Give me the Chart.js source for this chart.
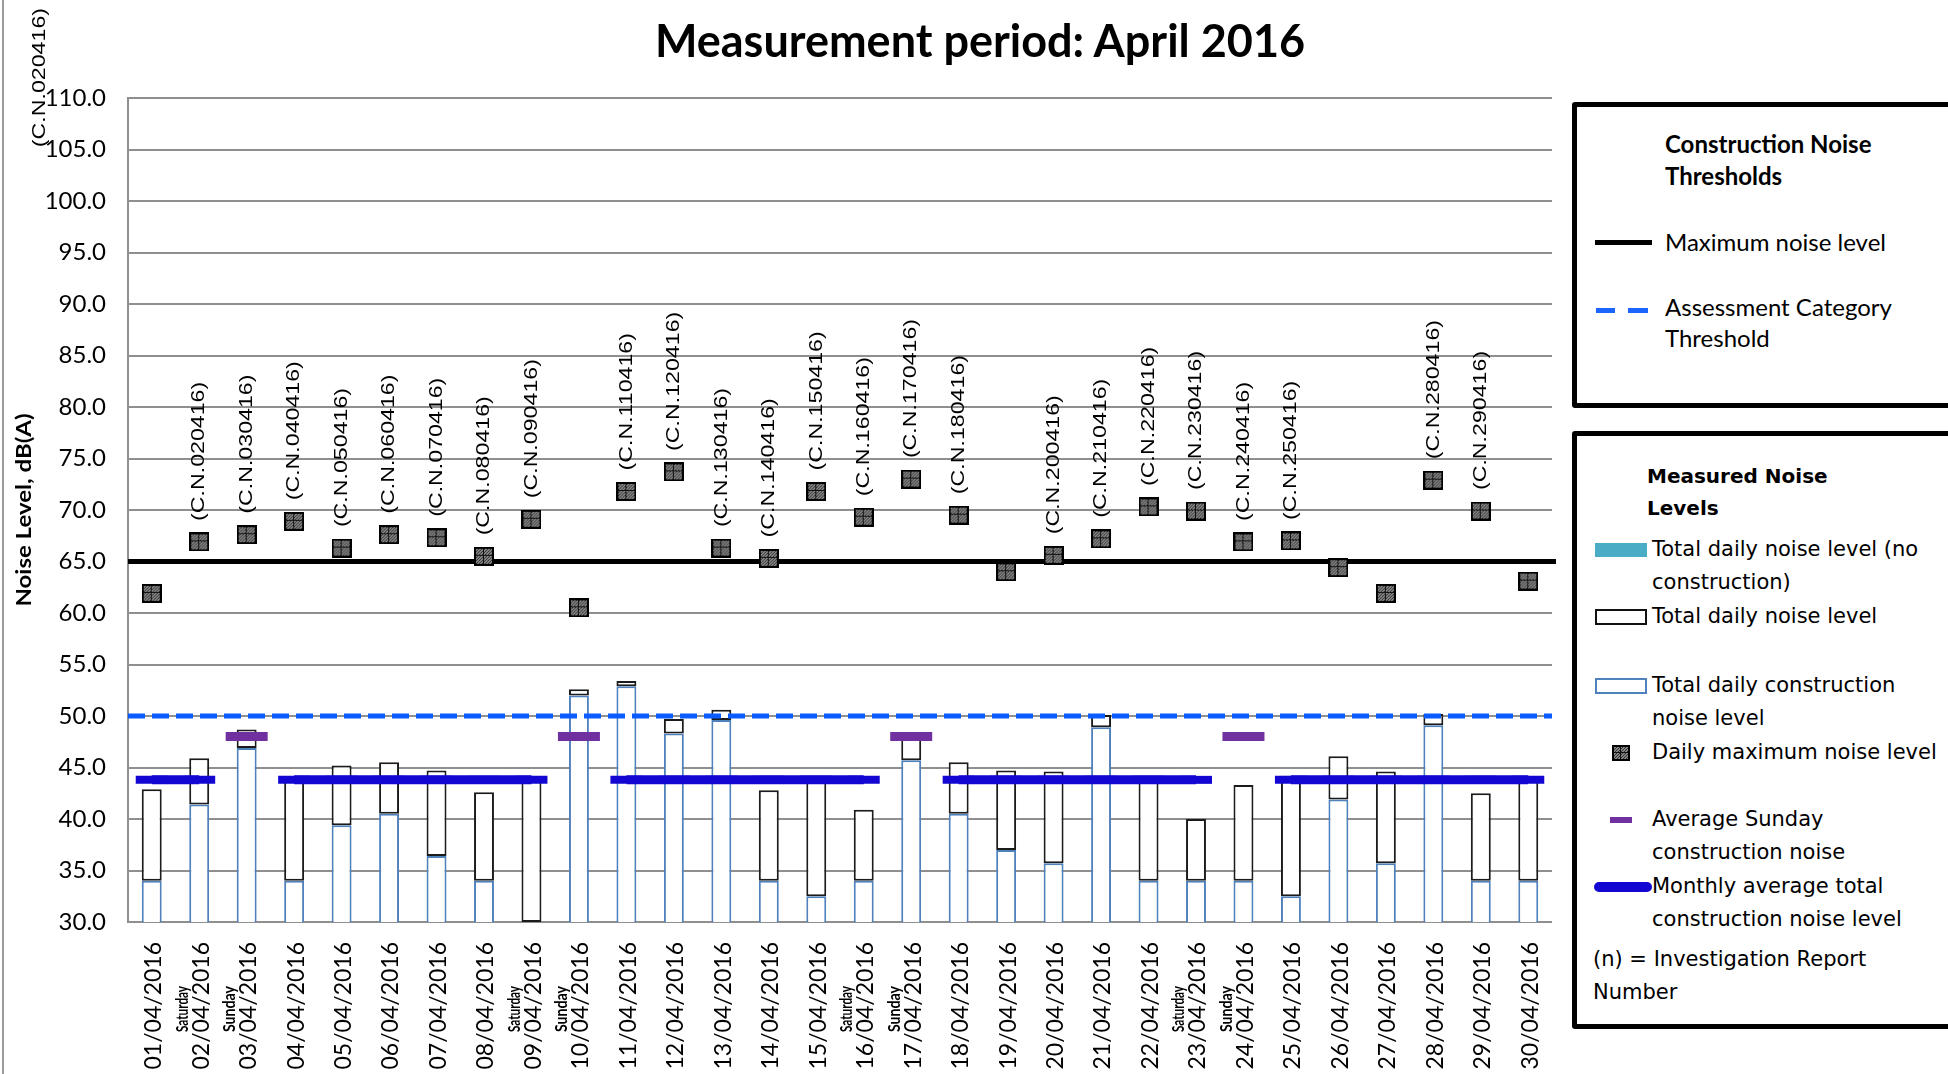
<!DOCTYPE html>
<html>
<head>
<meta charset="utf-8">
<title>Construction noise - April 2016</title>
<script src="https://cdn.jsdelivr.net/npm/chart.js@4.4.1/dist/chart.umd.min.js"></script>
<style>
  html, body { margin: 0; padding: 0; background: #fff; overflow: hidden; }
  #wrap { position: relative; width: 1948px; height: 1074px; overflow: hidden; }
  #chart-box { position: absolute; left: 0; top: 0; width: 1948px; height: 1074px; }
  .frame { position: absolute; left: 2px; top: 0; width: 2px; height: 1074px; background: #9a9a9a; }
  .title { position: absolute; left: 0; width: 1960px; top: 13px; text-align: center;
           font: bold 45px Lato, sans-serif; line-height: 1.2; color: #000; }
  .box { position: absolute; left: 1572px; width: 420px; border: 5px solid #000;
         border-radius: 3px; box-sizing: border-box; background: #fff; }
  .box div, .box img { position: absolute; }
  .t1 { font: 24px Lato, sans-serif; line-height: 31px; white-space: nowrap; }
  .h1 { font: bold 24px Lato, sans-serif; line-height: 32px; white-space: nowrap; }
  .t2 { font: 21px "DejaVu Sans", sans-serif; line-height: 33px; white-space: nowrap; }
  .h2 { font: bold 20px "DejaVu Sans", sans-serif; line-height: 32px; white-space: nowrap; }
</style>
</head>
<body>
<div id="wrap">
  <div id="chart-box"><canvas id="noise-chart"></canvas></div>
  <div class="frame"></div>
  <div class="title">Measurement period: April 2016</div>

  <!-- Thresholds legend -->
  <div class="box" style="top:102px;height:306px;">
    <div class="h1" style="left:88px;top:21px;">Construction Noise<br>Thresholds</div>
    <div style="left:18px;top:133px;width:57px;height:5px;background:#000;"></div>
    <div class="t1" style="left:88px;top:119px;">Maximum noise level</div>
    <div style="left:19px;top:201px;width:19px;height:5px;background:#1a66ff;"></div>
    <div style="left:51px;top:201px;width:20px;height:5px;background:#1a66ff;"></div>
    <div class="t1" style="left:88px;top:184px;">Assessment Category<br>Threshold</div>
  </div>

  <!-- Measured levels legend -->
  <div class="box" style="top:431px;height:598px;">
    <div class="h2" style="left:70px;top:24px;">Measured Noise<br>Levels</div>
    <div style="left:18px;top:107px;width:52px;height:14px;background:#4bacc6;"></div>
    <div class="t2" style="left:75px;top:97px;">Total daily noise level (no<br>construction)</div>
    <div style="left:18px;top:173px;width:48px;height:12px;border:2px solid #111;"></div>
    <div class="t2" style="left:75px;top:164px;">Total daily noise level</div>
    <div style="left:18px;top:242px;width:48px;height:12px;border:2px solid #4f81bd;"></div>
    <div class="t2" style="left:75px;top:233px;">Total daily construction<br>noise level</div>
    <img id="legend-marker" style="left:35px;top:309px;width:18px;height:16px;" alt="">
    <div class="t2" style="left:75px;top:300px;">Daily maximum noise level</div>
    <div style="left:33px;top:381px;width:22px;height:6px;background:#7030a0;"></div>
    <div class="t2" style="left:75px;top:367px;">Average Sunday<br>construction noise</div>
    <div style="left:17px;top:446px;width:58px;height:10px;border-radius:5px;background:#1406d2;"></div>
    <div class="t2" style="left:75px;top:434px;">Monthly average total<br>construction noise level</div>
    <div class="t2" style="left:16px;top:507px;">(n) = Investigation Report<br>Number</div>
  </div>
</div>

<script>
// Construction noise chart, April 2016
// Bars = daily total / construction noise, squares = daily maximum,
// horizontal lines = thresholds and averages.

// Data

const DATES = [
  '01/04/2016', '02/04/2016', '03/04/2016', '04/04/2016', '05/04/2016',
  '06/04/2016', '07/04/2016', '08/04/2016', '09/04/2016', '10/04/2016',
  '11/04/2016', '12/04/2016', '13/04/2016', '14/04/2016', '15/04/2016',
  '16/04/2016', '17/04/2016', '18/04/2016', '19/04/2016', '20/04/2016',
  '21/04/2016', '22/04/2016', '23/04/2016', '24/04/2016', '25/04/2016',
  '26/04/2016', '27/04/2016', '28/04/2016', '29/04/2016', '30/04/2016',
];

const WEEKDAYS = [
  '', 'Saturday', 'Sunday', '', '', '', '', '', 'Saturday', 'Sunday',
  '', '', '', '', '', 'Saturday', 'Sunday', '', '', '',
  '', '', 'Saturday', 'Sunday', '', '', '', '', '', '',
];

// Total daily noise level, dB(A)
const TOTAL_NOISE = [
  42.9, 45.9, 48.7, 43.9, 45.2, 45.5, 44.7, 42.6, 43.9, 52.6,
  53.4, 49.7, 50.6, 42.8, 44.2, 40.9, 48.2, 45.5, 44.7, 44.6,
  50.1, 43.7, 40.0, 43.3, 44.2, 46.1, 44.6, 50.2, 42.5, 43.8,
];

// Total daily construction noise level, dB(A)
const CONSTRUCTION_NOISE = [
  34.0, 41.4, 46.9, 34.0, 39.4, 40.5, 36.4, 34.0, null, 52.0,
  52.9, 48.3, 49.6, 34.0, 32.5, 34.0, 45.7, 40.5, 37.0, 35.7,
  48.9, 34.0, 34.0, 34.0, 32.5, 41.9, 35.7, 49.1, 34.0, 34.0,
];

// Daily maximum noise level, dB(A)
const DAILY_MAX = [
  61.9, 66.9, 67.6, 68.9, 66.3, 67.6, 67.3, 65.5, 69.1, 60.5,
  71.8, 73.7, 66.3, 65.3, 71.8, 69.3, 73.0, 69.5, 64.0, 65.6,
  67.2, 70.3, 69.9, 66.9, 67.0, 64.4, 61.9, 72.9, 69.9, 63.1,
];

// Investigation report numbers shown above the maximum markers
const REPORT_NO = [
  '', '(C.N.020416)', '(C.N.030416)', '(C.N.040416)', '(C.N.050416)',
  '(C.N.060416)', '(C.N.070416)', '(C.N.080416)', '(C.N.090416)', '',
  '(C.N.110416)', '(C.N.120416)', '(C.N.130416)', '(C.N.140416)', '(C.N.150416)',
  '(C.N.160416)', '(C.N.170416)', '(C.N.180416)', '', '(C.N.200416)',
  '(C.N.210416)', '(C.N.220416)', '(C.N.230416)', '(C.N.240416)', '(C.N.250416)',
  '', '', '(C.N.280416)', '(C.N.290416)', '',
];

// Average Sunday construction noise (Sundays only)
const SUNDAY_AVG = [
  null, null, 48.0, null, null, null, null, null, null, 48.0,
  null, null, null, null, null, null, 48.0, null, null, null,
  null, null, null, 48.0, null, null, null, null, null, null,
];

// Monthly average total construction noise (broken on Sundays)
const MONTHLY_AVG = [
  43.8, 43.8, null, 43.8, 43.8, 43.8, 43.8, 43.8, 43.8, null,
  43.8, 43.8, 43.8, 43.8, 43.8, 43.8, null, 43.8, 43.8, 43.8,
  43.8, 43.8, 43.8, null, 43.8, 43.8, 43.8, 43.8, 43.8, 43.8,
];

const MAX_LEVEL = 65.0;      // maximum noise level
const ASSESS_LEVEL = 50.0;   // assessment category threshold
const Y_MIN = 30, Y_MAX = 110, Y_STEP = 5;
const Y_TITLE = 'Noise Level, dB(A)';
const STRAY_LABEL = '(C.N.020416)';

// Helpers

// Square marker with a hatched grey fill, like the Excel picture marker
function makeMarker(w, h) {
  const c = document.createElement('canvas');
  c.width = w;
  c.height = h;
  const g = c.getContext('2d');
  g.fillStyle = '#000';
  g.fillRect(0, 0, w, h);
  g.fillStyle = '#858585';
  g.fillRect(2, 2, w - 4, h - 4);
  g.fillStyle = '#333';
  for (let y = 2; y < h - 2; y++) {
    for (let x = 2; x < w - 2; x++) {
      if ((x + y) % 3 === 0) g.fillRect(x, y, 1, 1);
    }
  }
  g.fillStyle = '#111';
  g.fillRect(Math.floor(w / 2) - 1, 2, 1, h - 4);
  g.fillRect(2, Math.floor(h / 2) - 1, w - 4, 1);
  return c;
}

// Text rotated to read bottom-to-top; stretch scales along the text
function vText(ctx, text, x, y, font, align, stretch) {
  ctx.save();
  ctx.translate(x, y);
  ctx.rotate(-Math.PI / 2);
  ctx.scale(stretch, 1);
  ctx.font = font;
  ctx.fillStyle = '#000';
  ctx.textAlign = align;
  ctx.textBaseline = 'middle';
  ctx.fillText(text, 0, 0);
  ctx.restore();
}

function hLine(chart, value, color, width, dash, extra) {
  const { ctx, chartArea: a, scales: { y } } = chart;
  const py = y.getPixelForValue(value);
  ctx.save();
  ctx.strokeStyle = color;
  ctx.lineWidth = width;
  ctx.setLineDash(dash);
  ctx.beginPath();
  ctx.moveTo(a.left, py);
  ctx.lineTo(a.right + extra, py);
  ctx.stroke();
  ctx.restore();
}

const overlayPlugin = {
  id: 'overlay',
  beforeDatasetsDraw(chart) {
    hLine(chart, MAX_LEVEL, '#000', 5, [], 4);
  },
  afterDatasetDraw(chart, args) {
    // dashed threshold sits on top of the bars
    if (args.index === 1) hLine(chart, ASSESS_LEVEL, '#0a5cff', 5, [17, 7], 0);
  },
  afterDatasetsDraw(chart) {
    const { ctx, scales: { x, y } } = chart;
    REPORT_NO.forEach((label, i) => {
      if (!label) return;
      const px = x.getPixelForValue(i);
      const py = y.getPixelForValue(DAILY_MAX[i]) - 21;
      vText(ctx, label, px, py, '19px "Liberation Sans"', 'left', 1.22);
    });
  },
  afterDraw(chart) {
    const { ctx, chartArea: a, scales: { x } } = chart;
    DATES.forEach((d, i) => {
      const px = x.getPixelForValue(i);
      vText(ctx, d, px + 2, a.bottom + 20, '23px Lato', 'right', 1.0);
      if (WEEKDAYS[i]) {
        ctx.save();
        ctx.translate(px - 17, a.bottom + 87);
        ctx.rotate(-Math.PI / 2);
        ctx.font = 'bold 17px Lato';
        ctx.fillStyle = '#000';
        ctx.textAlign = 'center';
        ctx.textBaseline = 'middle';
        ctx.fillText(WEEKDAYS[i], 0, 0, 46);
        ctx.restore();
      }
    });
    vText(ctx, Y_TITLE, 25, (a.top + a.bottom) / 2, 'bold 20px Lato', 'center', 1.2);
    vText(ctx, STRAY_LABEL, 40, 8, '19px "Liberation Sans"', 'right', 1.22);
  },
};

// Chart

document.addEventListener('DOMContentLoaded', () => {
  const marker = makeMarker(20, 19);
  document.getElementById('legend-marker').src = makeMarker(18, 16).toDataURL();

  Chart.defaults.font.family = 'Lato';
  Chart.defaults.color = '#000';

  const gridGray = '#8f8f8f';

  new Chart(document.getElementById('noise-chart'), {
    data: {
      labels: DATES,
      datasets: [
        {
          type: 'bar',
          label: 'Total daily construction noise level',
          data: CONSTRUCTION_NOISE,
          backgroundColor: '#ffffff',
          borderColor: '#4f81bd',
          borderWidth: 2,
          grouped: false,
          barPercentage: 0.42,
          categoryPercentage: 1,
          order: 6,
        },
        {
          type: 'bar',
          label: 'Total daily noise level',
          // stacked on top of the construction share
          data: TOTAL_NOISE.map((t, i) => [CONSTRUCTION_NOISE[i] ?? Y_MIN, t]),
          backgroundColor: '#ffffff',
          borderColor: '#1b1b1b',
          borderWidth: 2,
          borderSkipped: false,
          grouped: false,
          barPercentage: 0.42,
          categoryPercentage: 1,
          order: 5,
        },
        {
          type: 'line',
          label: 'Monthly average total construction noise level',
          data: MONTHLY_AVG,
          borderColor: '#1406d2',
          borderWidth: 9,
          spanGaps: false,
          pointStyle: 'line',
          pointRadius: 16,
          pointBorderWidth: 8,
          pointBorderColor: '#1406d2',
          order: 4,
        },
        {
          type: 'line',
          label: 'Average Sunday construction noise',
          data: SUNDAY_AVG,
          showLine: false,
          pointStyle: 'line',
          pointRadius: 21,
          pointBorderWidth: 9,
          pointBorderColor: '#7030a0',
          order: 3,
        },
        {
          type: 'line',
          label: 'Daily maximum noise level',
          data: DAILY_MAX,
          showLine: false,
          pointStyle: marker,
          pointRadius: 10,
          order: 2,
        },
      ],
    },
    options: {
      responsive: true,
      maintainAspectRatio: false,
      animation: false,
      devicePixelRatio: 1,
      layout: { padding: { left: 0, right: 396, top: 98, bottom: 0 } },
      plugins: {
        legend: { display: false },
        tooltip: { enabled: false },
      },
      scales: {
        x: {
          type: 'category',
          offset: true,
          grid: { display: false },
          border: { display: false },
          ticks: { display: false },
          afterFit: s => { s.height = 152; },
        },
        y: {
          min: Y_MIN,
          max: Y_MAX,
          ticks: {
            stepSize: Y_STEP,
            padding: 22,
            font: { size: 24 },
            callback: v => Number(v).toFixed(1),
          },
          grid: { color: gridGray, lineWidth: 2, drawTicks: false },
          border: { color: gridGray, width: 2 },
          afterFit: s => { s.width = 128; },
        },
      },
    },
    plugins: [overlayPlugin],
  });
});
</script>
</body>
</html>
